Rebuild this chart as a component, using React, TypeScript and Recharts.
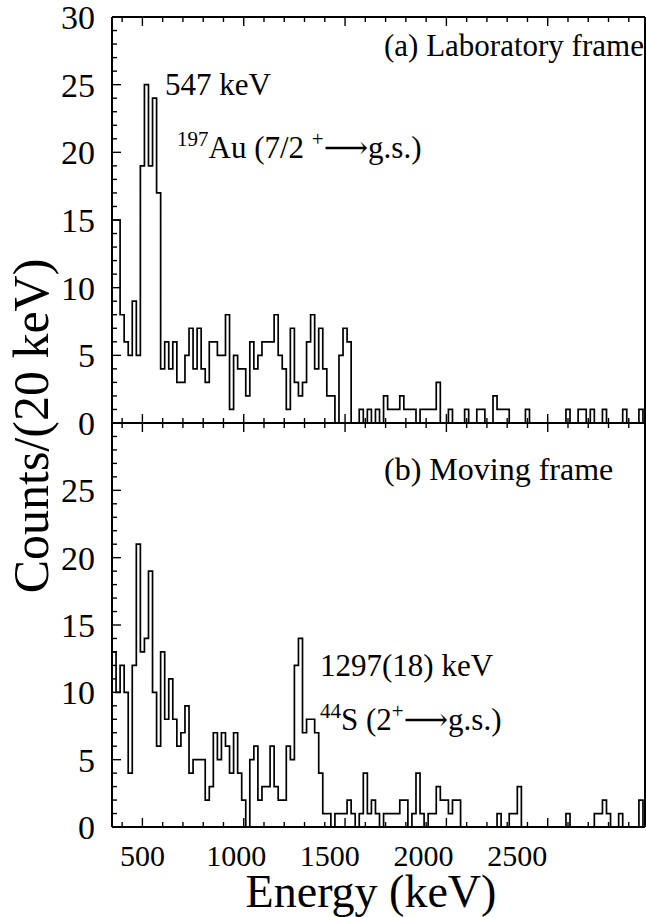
import React from "react";
import { ComposedChart, Line, XAxis, YAxis } from "recharts";

/* ── binning ───────────────────────────── */
const BIN_START = 350; // keV, left edge of first bin
const BIN_WIDTH = 20; // keV
const E_MIN = 350;
const E_MAX = 2980;

/* (a) laboratory frame, counts per 20 keV bin */
const LAB_COUNTS = [
  15, 15, 8, 6, 5, 9, 5, 19, 25, 19, 24, 17,
  4, 6, 4, 6, 3, 3, 5, 7, 4, 7,
  4, 3, 6, 6, 5, 5, 8, 1, 5, 4, 4, 2,
  6, 4, 5, 6, 6, 6, 8, 5, 4, 1, 7,
  3, 2, 3, 6, 8, 4, 7, 4, 2, 2, 0, 5, 7, 6,
  0, 0, 1, 0, 1, 0, 1, 0,
  2, 1, 1, 1, 2, 1, 1, 1, 0, 1, 1, 1, 1, 3,
  0, 0, 1, 0, 0, 0, 1, 0, 0, 1, 1, 0, 0, 2, 1, 1, 1, 0, 0, 0,
  0, 1, 0, 0, 0, 0, 0, 0, 0, 0, 0, 1, 0, 0, 1, 1, 0, 1, 0, 0, 1, 0, 0, 0, 0, 1, 0, 0, 0, 1, 0,
];

/* (b) moving frame */
const MOV_COUNTS = [
  13, 10, 12, 10, 4, 12, 21, 13, 14, 19, 10, 6,
  13, 8, 11, 8, 6, 7, 9, 4, 5, 5,
  5, 2, 3, 7, 5, 7, 6, 4, 7, 4, 2, 0,
  5, 6, 2, 3, 3, 6, 3, 2, 2, 6, 5,
  12, 14, 7, 8, 8, 7, 4, 1,
  1, 0, 1, 1, 1, 2, 1, 0, 1, 4, 1, 2, 1, 0,
  1, 1, 1, 1, 2, 2, 0, 1, 4, 1, 0, 1, 1, 3, 2, 2, 1, 2, 2, 0,
  0, 0, 0, 0, 0, 0, 0, 0, 1, 0, 0, 1, 1, 3, 0, 0, 0, 0, 0, 0, 0, 0, 0, 0,
  0, 1, 0, 0, 0, 0, 0, 0, 1, 1, 2, 1, 0, 0, 1, 0, 0, 0, 0, 2, 0,
];

/* ── ticks ───────────────────────────── */
const X_TICKS = [
  400, 500, 600, 700, 800, 900, 1000, 1100, 1200, 1300, 1400, 1500, 1600,
  1700, 1800, 1900, 2000, 2100, 2200, 2300, 2400, 2500, 2600, 2700, 2800, 2900,
];
const X_LABELS = [500, 1000, 1500, 2000, 2500];
const Y_TICKS = [
  0, 1, 2, 3, 4, 5, 6, 7, 8, 9, 10, 11, 12, 13, 14, 15, 16, 17, 18, 19, 20,
  21, 22, 23, 24, 25, 26, 27, 28, 29, 30,
];
const Y_LABELS_A = [0, 5, 10, 15, 20, 25, 30];
const Y_LABELS_B = [0, 5, 10, 15, 20, 25];

const FONT = "'Liberation Serif', 'Times New Roman', Times, 'DejaVu Serif', serif";

function toSteps(counts: number[]) {
  const pts = counts.map((v, i) => ({ e: BIN_START + i * BIN_WIDTH, v }));
  // close the last bin
  pts.push({ e: BIN_START + counts.length * BIN_WIDTH, v: counts[counts.length - 1] });
  return pts;
}

/* ── tick renderers (inward ticks) ───────────────────────────── */
function XTick(props: any) {
  const { x, y, payload, dir, showText } = props;
  const v = payload.value;
  const major = v % 500 === 0;
  const len = major ? 9 : 5;
  // in the original the labels are set a little tighter than the ticks
  const dx = -0.0152 * (v - 500);
  return (
    <g>
      <line x1={x} x2={x} y1={y} y2={y + dir * len} stroke="#000" strokeWidth={1.4} />
      {showText && X_LABELS.includes(v) && (
        <text x={x + dx} y={y + 39} textAnchor="middle" fontFamily={FONT} fontSize={30} fill="#000">
          {v}
        </text>
      )}
    </g>
  );
}

function YTick(props: any) {
  const { x, y, payload, dir, shown } = props;
  const v = payload.value;
  const major = v % 5 === 0;
  const len = major ? 9 : 5;
  return (
    <g>
      <line x1={x} x2={x + dir * len} y1={y} y2={y} stroke="#000" strokeWidth={1.4} />
      {shown && shown.includes(v) && (
        <text x={x - 17} y={y + 12} textAnchor="end" fontFamily={FONT} fontSize={34} fill="#000">
          {v}
        </text>
      )}
    </g>
  );
}

function Panel({
  counts,
  yLabels,
  height,
  margin,
  bottomLabels,
}: {
  counts: number[];
  yLabels: number[];
  height: number;
  margin: { top: number; right: number; bottom: number; left: number };
  bottomLabels: boolean;
}) {
  const data = toSteps(counts);
  const axisLine = { stroke: "#000", strokeWidth: 2 };
  return (
    <ComposedChart width={646} height={height} data={data} margin={margin}>
      <XAxis
        xAxisId="b"
        dataKey="e"
        type="number"
        domain={[E_MIN, E_MAX]}
        allowDataOverflow
        ticks={X_TICKS}
        interval={0}
        height={1}
        axisLine={axisLine}
        tickLine={false}
        tickSize={0}
        tickMargin={0}
        tick={<XTick dir={-1} showText={bottomLabels} />}
      />
      <XAxis
        xAxisId="t"
        orientation="top"
        dataKey="e"
        type="number"
        domain={[E_MIN, E_MAX]}
        allowDataOverflow
        ticks={X_TICKS}
        interval={0}
        height={1}
        axisLine={axisLine}
        tickLine={false}
        tickSize={0}
        tickMargin={0}
        tick={<XTick dir={1} showText={false} />}
      />
      <YAxis
        yAxisId="l"
        domain={[0, 30]}
        ticks={Y_TICKS}
        interval={0}
        width={112}
        axisLine={axisLine}
        tickLine={false}
        tickSize={0}
        tickMargin={0}
        tick={<YTick dir={1} shown={yLabels} />}
      />
      <YAxis
        yAxisId="r"
        orientation="right"
        domain={[0, 30]}
        ticks={Y_TICKS}
        interval={0}
        width={1}
        axisLine={axisLine}
        tickLine={false}
        tickSize={0}
        tickMargin={0}
        tick={<YTick dir={-1} shown={null} />}
      />
      <Line
        xAxisId="b"
        yAxisId="l"
        dataKey="v"
        type="stepAfter"
        stroke="#000"
        strokeWidth={1.7}
        dot={false}
        isAnimationActive={false}
      />
    </ComposedChart>
  );
}

const txt: React.CSSProperties = {
  position: "absolute",
  fontFamily: FONT,
  fontSize: 31,
  lineHeight: "30px",
  color: "#000",
  whiteSpace: "nowrap",
};
const sup: React.CSSProperties = { fontSize: 21, position: "relative", top: -12 };

export default function App() {
  return (
    <div style={{ position: "absolute", left: 0, top: 0, width: 646, height: 917, background: "#fff", fontFamily: FONT }}>
      <div style={{ position: "absolute", left: 0, top: 0 }}>
        <Panel
          counts={LAB_COUNTS}
          yLabels={Y_LABELS_A}
          height={452}
          margin={{ top: 16, right: 0, bottom: 28, left: 0 }}
          bottomLabels={false}
        />
      </div>
      <div style={{ position: "absolute", left: 0, top: 413 }}>
        <Panel
          counts={MOV_COUNTS}
          yLabels={Y_LABELS_B}
          height={504}
          margin={{ top: 9, right: 0, bottom: 89, left: 0 }}
          bottomLabels={true}
        />
      </div>

      {/* axis titles */}
      <div style={{ ...txt, fontSize: 46, lineHeight: "30px", left: 171, top: 877, width: 400, textAlign: "center" }}>
        Energy (keV)
      </div>
      <div
        style={{
          ...txt,
          fontSize: 50,
          lineHeight: "50px",
          left: 31,
          top: 426,
          transform: "translate(-50%, -50%) rotate(-90deg)",
        }}
      >
        Counts/(20 keV)
      </div>

      {/* annotations */}
      <div style={{ ...txt, left: 384, top: 31 }}>(a) Laboratory frame</div>
      <div style={{ ...txt, left: 165, top: 70 }}>547 keV</div>
      <div style={{ ...txt, left: 177, top: 133 }}>
        <span style={sup}>197</span>Au (7/2 <span style={sup}>+</span>⟶g.s.)
      </div>
      <div style={{ ...txt, fontSize: 32, left: 384, top: 454 }}>(b) Moving frame</div>
      <div style={{ ...txt, left: 320, top: 651 }}>1297(18) keV</div>
      <div style={{ ...txt, left: 320, top: 705 }}>
        <span style={sup}>44</span>S (2<span style={sup}>+</span>⟶g.s.)
      </div>
    </div>
  );
}
